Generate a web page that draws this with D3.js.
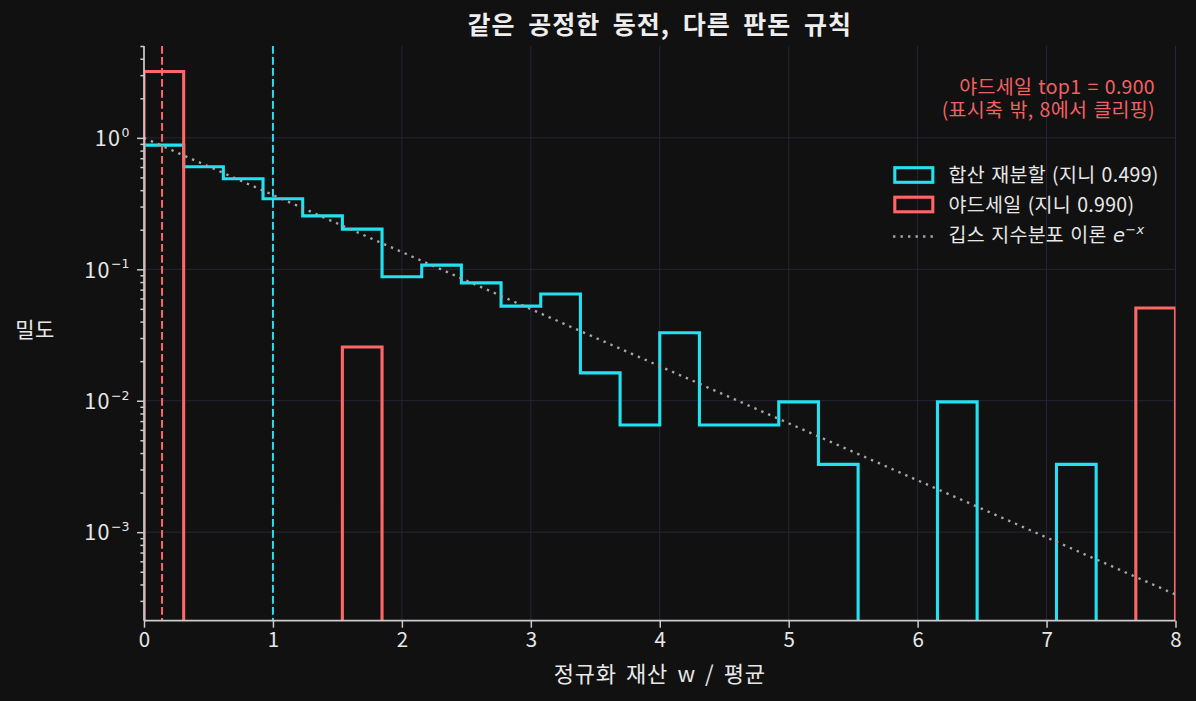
<!DOCTYPE html>
<html><head><meta charset="utf-8">
<script src="https://cdn.jsdelivr.net/npm/d3@7"></script>
<style>
html,body{margin:0;padding:0;background:#111111;}
svg{display:block;}
text{font-family:"Noto Sans CJK KR","Noto Sans",sans-serif;}
</style></head><body>
<svg id="c" width="1196" height="701"></svg>
<script>
// ---------- data ----------
const title = "같은 공정한 동전, 다른 판돈 규칙";
const xLabel = "정규화 재산 w / 평균";
const yLabel = "밀도";
const binCount = 26;
const xRange = [0, 8];
const yDomain = [2.12e-4, 5.0];
// density per bin (26 equal bins over 0..8)
const redistDensity = [0.88, 0.603, 0.488, 0.344, 0.255, 0.202, 0.0877, 0.1076, 0.0789, 0.0525,
  0.0648, 0.0163, 0.00653, 0.0329, 0.00653, 0.00653, 0.0098, 0.00328, 0, 0,
  0.0098, 0, 0, 0.00328, 0, 0];
const yardDensity = [3.2, 0, 0, 0, 0, 0.0256, 0, 0, 0, 0,
  0, 0, 0, 0, 0, 0, 0, 0, 0, 0,
  0, 0, 0, 0, 0, 0.0507];
const redistMarker = 1.0;
const yardMarker = 0.14;
const xTicks = [0, 1, 2, 3, 4, 5, 6, 7, 8];
const yTicks = [1e-3, 1e-2, 1e-1, 1];
const yTickExp = ["−3", "−2", "−1", "0"];
const legendLabels = ["합산 재분할 (지니 0.499)", "야드세일 (지니 0.990)", "깁스 지수분포 이론 "];
const annotLines = ["야드세일 top1 = 0.900", "(표시축 밖, 8에서 클리핑)"];

// ---------- style ----------
const C_CYAN = "#22e1f0", C_RED = "#ff6666", C_GRAY = "#a4a4a4";
const C_TEXT = "#e8e8e8", C_SPINE = "#cccccc", C_GRID = "#262636";
const L = 144, R = 1175.5, T = 46, B = 620.7;

const svg = d3.select("#c");
svg.append("rect").attr("width", 1196).attr("height", 701).attr("fill", "#111111");

const x = d3.scaleLinear().domain(xRange).range([L, R]);
const y = d3.scaleLog().domain(yDomain).range([B, T]);
const yv = v => v > 0 ? y(v) : B + 40;

svg.append("defs").append("clipPath").attr("id", "clip")
  .append("rect").attr("x", L).attr("y", T).attr("width", R - L).attr("height", B - T);

// grid
const grid = svg.append("g");
grid.selectAll("line.gx").data(xTicks).join("line")
  .attr("x1", d => x(d)).attr("x2", d => x(d)).attr("y1", T).attr("y2", B)
  .attr("stroke", C_GRID).attr("stroke-width", 1);
grid.selectAll("line.gy").data(yTicks).join("line")
  .attr("x1", L).attr("x2", R).attr("y1", d => y(d)).attr("y2", d => y(d))
  .attr("stroke", C_GRID).attr("stroke-width", 1);

const edges = d3.range(binCount + 1).map(i => xRange[0] + i * (xRange[1] - xRange[0]) / binCount);
function stepPts(vals) {
  const pts = [[edges[0], 0]];
  vals.forEach((v, i) => { pts.push([edges[i], v]); pts.push([edges[i + 1], v]); });
  pts.push([edges[binCount], 0]);
  return pts;
}
const line = d3.line().x(d => x(d[0])).y(d => yv(d[1]));
const plot = svg.append("g").attr("clip-path", "url(#clip)");
plot.append("path").attr("d", line(stepPts(redistDensity)))
  .attr("fill", "none").attr("stroke", C_CYAN).attr("stroke-width", 3.1).attr("stroke-linejoin", "miter");
plot.append("path").attr("d", line(stepPts(yardDensity)))
  .attr("fill", "none").attr("stroke", C_RED).attr("stroke-width", 3.1).attr("stroke-linejoin", "miter");

// theory e^{-x}
const theo = d3.range(0, 8.0001, 0.02).map(v => [v, Math.exp(-v)]);
plot.append("path").attr("d", d3.line().x(d => x(d[0])).y(d => y(d[1]))(theo))
  .attr("fill", "none").attr("stroke", C_GRAY).attr("stroke-width", 2.4)
  .attr("stroke-dasharray", "2.4,5.1").attr("stroke-linecap", "butt");

// markers
[[redistMarker, C_CYAN], [yardMarker, C_RED]].forEach(([m, c]) => {
  plot.append("line").attr("x1", x(m)).attr("x2", x(m)).attr("y1", T).attr("y2", B)
    .attr("stroke", c).attr("stroke-width", 2).attr("stroke-dasharray", "7.7,3.3");
});

// axes
const xAxis = svg.append("g").attr("transform", `translate(0,${B})`)
  .call(d3.axisBottom(x).tickValues(xTicks).tickFormat(d3.format("d")).tickSize(7).tickPadding(5));
const yAxis = svg.append("g").attr("transform", `translate(${L},0)`)
  .call(d3.axisLeft(y).tickValues(yTicks).tickFormat(() => "").tickSize(7));
const minor = [];
for (let e = -4; e <= 0; e++) for (let k = 2; k <= 9; k++) {
  const v = k * Math.pow(10, e);
  if (v >= yDomain[0] && v <= yDomain[1]) minor.push(v);
}
const yMinor = svg.append("g").attr("transform", `translate(${L},0)`)
  .call(d3.axisLeft(y).tickValues(minor).tickFormat(() => "").tickSize(3.6));
[xAxis, yAxis, yMinor].forEach(g => {
  g.select(".domain").attr("stroke", C_SPINE).attr("stroke-width", 1.7);
  g.selectAll(".tick line").attr("stroke", C_SPINE).attr("stroke-width", 1.5);
});
yMinor.select(".domain").remove();
yAxis.select(".domain").attr("d", `M0,${T}V${B}`);
xAxis.select(".domain").attr("d", `M${L},0H${R}`);
xAxis.selectAll(".tick text").attr("fill", C_TEXT).attr("font-size", 20.5)
  .attr("font-family", '"Noto Sans CJK KR",sans-serif');

// y tick labels 10^k
yTicks.forEach((v, i) => {
  const t = svg.append("text").attr("x", 129.5).attr("y", y(v) + 8.3)
    .attr("text-anchor", "end").attr("fill", C_TEXT).attr("font-size", 21.5);
  t.append("tspan").attr("letter-spacing", 1.5).text("10");
  t.append("tspan").attr("dy", -9.3).attr("font-size", 12.5)
    .attr("font-family", '"DejaVu Sans",sans-serif').text(yTickExp[i]);
});

// labels
svg.append("text").attr("x", (L + R) / 2).attr("y", 34).attr("text-anchor", "middle")
  .attr("fill", "#eeeeee").attr("font-size", 25).attr("font-weight", "bold")
  .attr("letter-spacing", 1).attr("word-spacing", 6).text(title);
svg.append("text").attr("x", (L + R) / 2).attr("y", 682).attr("text-anchor", "middle")
  .attr("fill", C_TEXT).attr("font-size", 22).attr("letter-spacing", 0.8).attr("word-spacing", 3.5).text(xLabel);
svg.append("text").attr("x", 35).attr("y", 337).attr("text-anchor", "middle")
  .attr("fill", C_TEXT).attr("font-size", 21).attr("letter-spacing", 0.5).text(yLabel);

// annotation
annotLines.forEach((s, i) => {
  svg.append("text").attr("x", 1155).attr("y", 94 + i * 22.5).attr("text-anchor", "end")
    .attr("fill", "#f06262").attr("font-size", 19.5)
    .attr("letter-spacing", 0.3).attr("word-spacing", 1.5).text(s);
});

// legend
const lg = svg.append("g");
const rowY = [175, 204.5, 235];
[C_CYAN, C_RED].forEach((c, i) => {
  lg.append("rect").attr("x", 894.8).attr("y", rowY[i] - 7.3).attr("width", 38).attr("height", 14.6)
    .attr("fill", "none").attr("stroke", c).attr("stroke-width", 3.1);
});
lg.append("line").attr("x1", 893).attr("x2", 934).attr("y1", rowY[2] + 1.5).attr("y2", rowY[2] + 1.5)
  .attr("stroke", C_GRAY).attr("stroke-width", 2.4).attr("stroke-dasharray", "2.4,5.1");
legendLabels.forEach((s, i) => {
  const t = lg.append("text").attr("x", 948.5).attr("y", rowY[i] + 7)
    .attr("fill", C_TEXT).attr("font-size", 19.5)
    .attr("letter-spacing", 0.3).attr("word-spacing", 1.5).text(s);
  if (i === 2) {
    t.append("tspan").attr("font-style", "italic").attr("font-family", '"DejaVu Sans",sans-serif').text("e");
    t.append("tspan").attr("dy", -8.5).attr("font-size", 13).attr("font-style", "italic")
      .attr("font-family", '"DejaVu Sans",sans-serif').text("−x");
  }
});
</script></body></html>
